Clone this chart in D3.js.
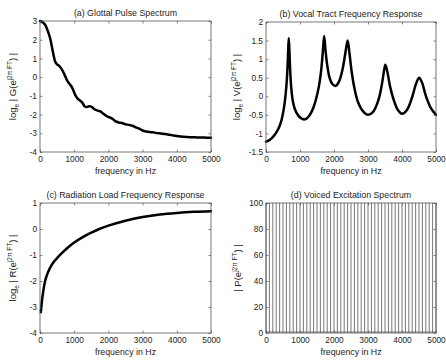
<!DOCTYPE html>
<html>
<head>
<meta charset="utf-8">
<script src="https://cdn.jsdelivr.net/npm/d3@7"></script>
<style>
  html, body { margin: 0; padding: 0; background: #fff; }
  svg { display: block; font-family: "Liberation Sans", Arial, sans-serif; }
</style>
</head>
<body>
<svg id="chart" width="446" height="360"></svg>
<script>
// Frequency tick labels shared by all four panels (Hz)
const freqTicks = [0, 1000, 2000, 3000, 4000, 5000];

// (a) Glottal pulse spectrum, log magnitude
const glottalFreq = [0, 50, 100, 150, 200, 250, 300, 350, 400, 450, 500, 550, 600, 650, 700, 750, 800, 850, 900, 950,
  1000, 1050, 1100, 1150, 1200, 1250, 1300, 1350, 1400, 1450, 1500, 1550, 1600, 1650, 1700, 1750, 1800, 1850, 1900, 1950,
  2000, 2100, 2200, 2300, 2400, 2500, 2600, 2700, 2800, 2900, 3000, 3100, 3200, 3300, 3400, 3500, 3600, 3700, 3800, 3900,
  4000, 4200, 4400, 4600, 4800, 5000];
const glottalLog = [3.0, 2.97, 2.9, 2.8, 2.6, 2.35, 2.05, 1.6, 1.15, 0.8, 0.68, 0.62, 0.52, 0.38, 0.2, 0.0, -0.2, -0.33, -0.45, -0.6,
  -0.82, -1.02, -1.15, -1.22, -1.3, -1.4, -1.55, -1.6, -1.58, -1.55, -1.58, -1.65, -1.72, -1.76, -1.8, -1.82, -1.88, -1.95, -2.02, -2.08,
  -2.12, -2.2, -2.35, -2.42, -2.45, -2.52, -2.55, -2.6, -2.68, -2.75, -2.85, -2.9, -2.93, -2.95, -2.98, -3.0, -3.02, -3.05, -3.08, -3.12,
  -3.15, -3.19, -3.21, -3.22, -3.23, -3.24];
const glottalTicks = [3, 2, 1, 0, -1, -2, -3, -4];

// (b) Vocal tract frequency response, log magnitude (five formants)
const tractFreq = [0, 100, 200, 300, 400, 450, 500, 550, 600, 630, 650, 670, 690, 710, 740, 780, 850, 950, 1050, 1150,
  1250, 1350, 1450, 1550, 1620, 1670, 1710, 1750, 1800, 1870, 1950, 2050, 2150, 2250, 2330, 2400, 2450, 2520, 2600, 2700,
  2850, 3000, 3150, 3300, 3400, 3470, 3510, 3560, 3650, 3750, 3880, 4000, 4150, 4300, 4400, 4500, 4580, 4700, 4850, 5000];
const tractLog = [-1.22, -1.18, -1.1, -0.98, -0.8, -0.66, -0.46, -0.17, 0.28, 0.72, 1.18, 1.57, 1.2, 0.72, 0.26, -0.08, -0.35, -0.52, -0.6, -0.62,
  -0.55, -0.4, -0.15, 0.24, 0.68, 1.18, 1.62, 1.24, 0.84, 0.5, 0.33, 0.28, 0.4, 0.72, 1.14, 1.5, 1.2, 0.66, 0.22, -0.14,
  -0.4, -0.5, -0.42, -0.12, 0.28, 0.68, 0.85, 0.7, 0.26, -0.08, -0.37, -0.47, -0.36, -0.02, 0.3, 0.5, 0.39, 0.02, -0.32, -0.5];
const tractTicks = [2, 1.5, 1, 0.5, 0, -0.5, -1, -1.5];

// (c) Radiation load frequency response, log magnitude
const radFreq = [25, 50, 100, 150, 200, 300, 400, 500, 600, 800, 1000, 1250, 1500, 1750, 2000, 2500, 3000, 3500, 4000, 4500, 5000];
const radLog = [-3.2, -2.85, -2.35, -2.0, -1.78, -1.48, -1.27, -1.12, -0.98, -0.73, -0.52, -0.31, -0.14, 0.01, 0.13, 0.32, 0.46, 0.56, 0.62, 0.66, 0.68];
const radTicks = [1, 0, -1, -2, -3, -4];

// (d) Voiced excitation spectrum: impulses every 100 Hz
const pitchFreq = [0, 100, 200, 300, 400, 500, 600, 700, 800, 900, 1000, 1100, 1200, 1300, 1400, 1500, 1600, 1700, 1800, 1900,
  2000, 2100, 2200, 2300, 2400, 2500, 2600, 2700, 2800, 2900, 3000, 3100, 3200, 3300, 3400, 3500, 3600, 3700, 3800, 3900,
  4000, 4100, 4200, 4300, 4400, 4500, 4600, 4700, 4800, 4900, 5000];
const pitchMag = pitchFreq.map(() => 100);
const pitchTicks = [0, 20, 40, 60, 80, 100];

const svg = d3.select("#chart");
const ink = "#222";

function yLabel(g, x, y, parts) {
  const t = g.append("text")
    .attr("transform", `translate(${x},${y}) rotate(-90)`)
    .attr("text-anchor", "middle")
    .attr("font-size", 9.5)
    .attr("fill", ink);
  parts.forEach(p => {
    const s = t.append("tspan").text(p.t);
    if (p.sub) s.attr("font-size", 6.5).attr("dy", 2.5);
    if (p.sup) s.attr("font-size", 6.5).attr("dy", -4.5);
    if (p.back) s.attr("dy", p.back);
  });
}

function panel(opts) {
  const { left, right, top, bottom, yDomain, yTicks, title, fmt } = opts;
  const x = d3.scaleLinear().domain([0, 5000]).range([left, right]);
  const y = d3.scaleLinear().domain(yDomain).range([bottom, top]);
  const g = svg.append("g");

  // plot contents
  const body = g.append("g");
  opts.draw(body, x, y);

  // box with inward ticks on all four sides
  const tick = 2.5;
  const axisStyle = sel => {
    sel.select(".domain").remove();
    sel.selectAll("line").attr("stroke", "#555").attr("stroke-width", 0.7);
    sel.selectAll("text").attr("fill", ink).attr("font-size", 8.3).attr("font-family", "Liberation Sans, Arial, sans-serif");
  };
  g.append("g").attr("transform", `translate(0,${bottom})`)
    .call(d3.axisBottom(x).tickValues(freqTicks).tickSize(-tick).tickPadding(4).tickFormat(d3.format("d")))
    .call(axisStyle);
  g.append("g").attr("transform", `translate(0,${top})`)
    .call(d3.axisTop(x).tickValues(freqTicks).tickSize(-tick).tickFormat(""))
    .call(axisStyle);
  g.append("g").attr("transform", `translate(${left},0)`)
    .call(d3.axisLeft(y).tickValues(yTicks).tickSize(-tick).tickPadding(3).tickFormat(fmt))
    .call(axisStyle);
  g.append("g").attr("transform", `translate(${right},0)`)
    .call(d3.axisRight(y).tickValues(yTicks).tickSize(-tick).tickFormat(""))
    .call(axisStyle);
  g.append("rect")
    .attr("x", left).attr("y", top).attr("width", right - left).attr("height", bottom - top)
    .attr("fill", "none").attr("stroke", "#555").attr("stroke-width", 0.8);

  g.append("text").attr("x", (left + right) / 2).attr("y", top - 5)
    .attr("text-anchor", "middle").attr("font-size", 8.8).attr("fill", ink).text(title);
  g.append("text").attr("x", (left + right) / 2).attr("y", bottom + 22)
    .attr("text-anchor", "middle").attr("font-size", 8.8).attr("fill", ink).text("frequency in Hz");
  yLabel(g, opts.ylx, (top + bottom) / 2, opts.ylabel);
}

function curve(freqs, vals, shape) {
  return (body, x, y) => {
    const pts = freqs.map((f, i) => [f, vals[i]]);
    body.append("path")
      .datum(pts)
      .attr("fill", "none").attr("stroke", "#000").attr("stroke-width", 2.5)
      .attr("stroke-linejoin", "round").attr("stroke-linecap", "round")
      .attr("d", d3.line().x(d => x(d[0])).y(d => y(d[1])).curve(shape || d3.curveCatmullRom.alpha(0.5)));
  };
}

const fmtPlain = d => String(d);

panel({
  left: 40, right: 211, top: 21, bottom: 152, yDomain: [-4, 3], yTicks: glottalTicks, fmt: fmtPlain,
  title: "(a) Glottal Pulse Spectrum", ylx: 16,
  ylabel: [{ t: "log" }, { t: "e", sub: true }, { t: " | G(e", back: -2.5 }, { t: "j2\u03c0 FT", sup: true }, { t: ") |", back: 4.5 }],
  draw: curve(glottalFreq, glottalLog)
});

panel({
  left: 266, right: 436, top: 22, bottom: 152, yDomain: [-1.5, 2], yTicks: tractTicks, fmt: fmtPlain,
  title: "(b) Vocal Tract Frequency Response", ylx: 240,
  ylabel: [{ t: "log" }, { t: "e", sub: true }, { t: " | V(e", back: -2.5 }, { t: "j2\u03c0 FT", sup: true }, { t: ") |", back: 4.5 }],
  draw: curve(tractFreq, tractLog)
});

panel({
  left: 40, right: 211, top: 203, bottom: 333, yDomain: [-4, 1], yTicks: radTicks, fmt: fmtPlain,
  title: "(c) Radiation Load Frequency Response", ylx: 16,
  ylabel: [{ t: "log" }, { t: "e", sub: true }, { t: " | R(e", back: -2.5 }, { t: "j2\u03c0 FT", sup: true }, { t: ") |", back: 4.5 }],
  draw: curve(radFreq, radLog, d3.curveMonotoneX)
});

panel({
  left: 266, right: 436, top: 203, bottom: 333, yDomain: [0, 100], yTicks: pitchTicks, fmt: fmtPlain,
  title: "(d) Voiced Excitation Spectrum", ylx: 241,
  ylabel: [{ t: "| P(e" }, { t: "j2\u03c0 FT", sup: true }, { t: ") |", back: 4.5 }],
  draw: (body, x, y) => {
    body.selectAll("line.imp").data(pitchFreq).join("line")
      .attr("class", "imp")
      .attr("x1", d => x(d)).attr("x2", d => x(d))
      .attr("y1", y(0)).attr("y2", (d, i) => y(pitchMag[i]))
      .attr("stroke", "#555").attr("stroke-width", 0.8);
    body.append("line")
      .attr("x1", x(0)).attr("x2", x(5000)).attr("y1", y(0) - 1).attr("y2", y(0) - 1)
      .attr("stroke", "#555").attr("stroke-width", 0.8);
  }
});
</script>
</body>
</html>
